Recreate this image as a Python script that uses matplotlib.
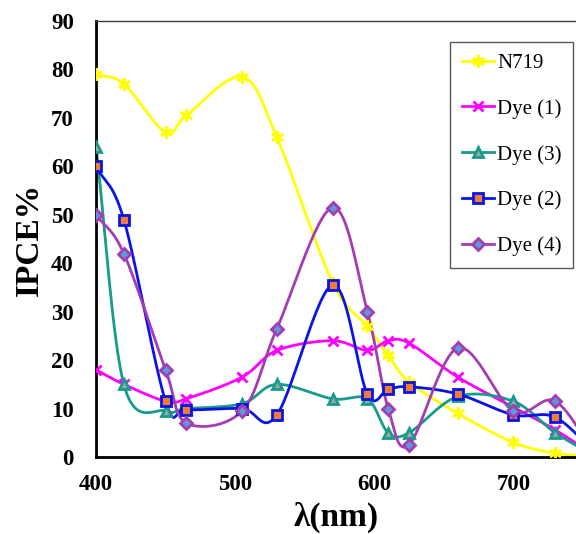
import matplotlib
matplotlib.use("Agg")
import matplotlib.pyplot as plt
import numpy as np

# wavelengths (nm)
wl = [400, 420, 450, 465, 505, 530, 570, 595, 610, 625, 660, 700, 730, 760]

n719 = [79, 77, 67, 70.5, 78.5, 66, 36, 27, 21, 15.5, 9, 3, 0.8, 0]
dye1 = [18, 15, 11.5, 12, 16.5, 22, 24, 22, 24, 23.5, 16.5, 10.3, 5.6, 0]
dye3 = [64, 15, 9.5, 10, 11, 15, 12, 12, 5, 5, 12.5, 11.5, 5, 0]
dye2 = [60, 49, 11.5, 9.8, 10, 8.7, 35.5, 13, 14, 14.5, 13, 8.7, 8.2, 0.5]
dye4 = [50, 42, 18, 7, 9.5, 26.5, 51.5, 30, 10, 2.5, 22.5, 9.5, 11.5, 0]


def smooth(x, y, n=30):
    # Catmull-Rom style smoothing, similar to Excel's smoothed lines
    x = np.asarray(x, float)
    y = np.asarray(y, float)
    px = np.concatenate([[2 * x[0] - x[1]], x, [2 * x[-1] - x[-2]]])
    py = np.concatenate([[2 * y[0] - y[1]], y, [2 * y[-1] - y[-2]]])
    xs, ys = [], []
    t = np.linspace(0, 1, n)
    for i in range(1, len(px) - 2):
        p0, p1, p2, p3 = px[i - 1], px[i], px[i + 1], px[i + 2]
        q0, q1, q2, q3 = py[i - 1], py[i], py[i + 1], py[i + 2]
        c1x, c1y = p1 + (p2 - p0) / 6, q1 + (q2 - q0) / 6
        c2x, c2y = p2 - (p3 - p1) / 6, q2 - (q3 - q1) / 6
        b = [(1 - t) ** 3, 3 * (1 - t) ** 2 * t, 3 * (1 - t) * t ** 2, t ** 3]
        xs.append(b[0] * p1 + b[1] * c1x + b[2] * c2x + b[3] * p2)
        ys.append(b[0] * q1 + b[1] * c1y + b[2] * c2y + b[3] * q2)
    return np.concatenate(xs), np.concatenate(ys)


plt.rcParams['font.family'] = ['Liberation Serif', 'DejaVu Serif']

fig = plt.figure(figsize=(5.76, 5.34), dpi=100)
ax = fig.add_axes([0.1667, 0.1442, 0.8333, 0.8165])

series = [
    ("N719", n719, "#FFFF00", dict(marker=(6, 2, 0), ms=9, mfc="#FFFF00", mec="#FFFF00", mew=2)),
    ("Dye (1)", dye1, "#FF00FF", dict(marker="x", ms=7, mfc="#FF00FF", mec="#FF00FF", mew=2)),
    ("Dye (3)", dye3, "#179B8B", dict(marker="^", ms=7, mfc="#A5A5A5", mec="#179B8B", mew=2)),
    ("Dye (2)", dye2, "#0A14E6", dict(marker="s", ms=7, mfc="#ED7D31", mec="#0A14E6", mew=2)),
    ("Dye (4)", dye4, "#A63CB4", dict(marker="D", ms=6, mfc="#5B9BD5", mec="#A63CB4", mew=2)),
]

for name, vals, col, mk in series:
    sx, sy = smooth(wl, vals)
    ax.plot(sx, sy, color=col, lw=2, zorder=2)
    ax.plot(wl, vals, ls="none", zorder=3, **mk)
    ax.plot([], [], color=col, lw=2, label=name, **mk)

ax.set_xlim(400, 745)
ax.set_ylim(0, 90)
ax.set_xticks([400, 500, 600, 700])
ax.set_yticks(range(0, 91, 10))
ax.tick_params(length=0, labelsize=16.5)
ax.tick_params(axis="y", pad=16)
ax.tick_params(axis="x", pad=12)
for lab in ax.get_xticklabels() + ax.get_yticklabels():
    lab.set_fontweight("bold")

ax.spines["right"].set_visible(False)
ax.spines["top"].set_color("#404040")
ax.spines["top"].set_linewidth(1)
ax.spines["left"].set_linewidth(2)
ax.spines["bottom"].set_linewidth(2)

ax.set_ylabel("IPCE%", fontsize=24, fontweight="bold", labelpad=4)
ax.set_xlabel("λ(nm)", fontsize=24, fontweight="bold", labelpad=5)

leg = ax.legend(loc="upper right", bbox_to_anchor=(0.994, 0.952), fontsize=15,
                frameon=True, fancybox=False, edgecolor="#303030",
                labelspacing=1.25, handlelength=1.55, handletextpad=0.15,
                borderpad=0.55, borderaxespad=0)
leg.get_frame().set_linewidth(1)

fig.savefig("out.png", dpi=100)
